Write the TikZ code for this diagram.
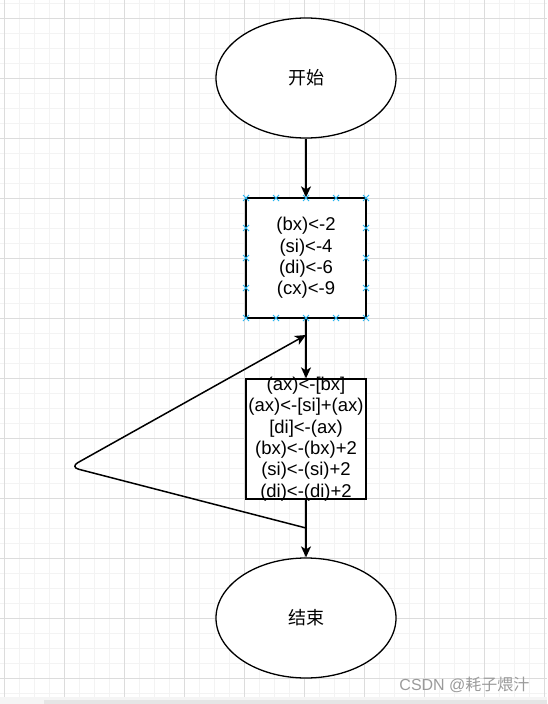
\documentclass[tikz,border=0pt]{standalone}
\usepackage{fontspec}
\setmainfont{Liberation Sans}
\newfontfamily\cjk{Noto Sans CJK SC}
\usetikzlibrary{arrows.meta,shapes.geometric}
\definecolor{gridmajor}{HTML}{DCDCDC}
\definecolor{gridminor}{HTML}{F3F3F3}
\definecolor{handleblue}{HTML}{29B6F2}
\definecolor{markgray}{HTML}{9A9A9A}
\tikzset{
  Terminal/.style = { ellipse, draw, line width=1.3pt, fill=white,
                      minimum width=180pt, minimum height=120pt,
                      inner sep=0pt, font=\fontsize{18}{20}\cjk },
  ProcBox/.style  = { rectangle, draw, line width=1.3pt, fill=white,
                      minimum size=120pt, inner sep=0pt },
  ProcText/.style = { align=center, inner sep=0pt,
                      font=\fontsize{18.5}{21.4}\selectfont },
  FlowEdge/.style = { line width=1.5pt,
                      -{Stealth[length=11pt,width=10pt,inset=3pt]} },
  Handle/.style   = { handleblue, line width=0.9pt } }

\begin{document}
\begin{tikzpicture}[x=1pt,y=-1pt]
  \useasboundingbox (0,0) rectangle (547,704);
  % background grid
  \foreach \gx in {4,19,...,544} \draw[gridminor,line width=0.8pt] (\gx,0) -- (\gx,697);
  \foreach \gy in {3,18,...,693} \draw[gridminor,line width=0.8pt] (0,\gy) -- (547,\gy);
  \foreach \gx in {4,64,...,544} \draw[gridmajor,line width=0.8pt] (\gx,0) -- (\gx,697);
  \foreach \gy in {18,78,...,678} \draw[gridmajor,line width=0.8pt] (0,\gy) -- (547,\gy);
  \fill[gray!8] (0,697) rectangle (547,704);
  \fill[gray!20] (44,700) rectangle (547,704);

  \node[Terminal](start) at (306,78) {开始};
  \node[ProcBox, label={[ProcText]center:(bx)<-2\\(si)<-4\\(di)<-6\\(cx)<-9}](init) at (306,258) {};
  \node[ProcBox, label={[ProcText]center:(ax)<-[bx]\\(ax)<-[si]+(ax)\\{}[di]<-(ax)\\(bx)<-(bx)+2\\(si)<-(si)+2\\(di)<-(di)+2}](body) at (306,439) {};
  \node[Terminal](stop) at (306,618) {结束};
  \node[markgray, font=\fontsize{16}{16}\selectfont, anchor=east](mark) at (533,685) {CSDN @{\cjk 耗子煨汁}};

  \draw[FlowEdge] (start) -- (init);
  \draw[FlowEdge] (init) -- (body);
  \draw[FlowEdge] (body) -- (stop);
  % loop back
  \coordinate (back) at (306,528);
  \coordinate (turn) at (70,467);
  \coordinate (entry) at (306,335);
  \draw[FlowEdge, rounded corners=9pt] (back) -- (turn) -- (entry);

  % selection handles
  \foreach \hx in {246,276,...,366}
    \foreach \hy in {198,318}
      \draw[Handle] (\hx-3,\hy-3) -- (\hx+3,\hy+3) (\hx-3,\hy+3) -- (\hx+3,\hy-3);
  \foreach \hy in {228,258,288}
    \foreach \hx in {246,366}
      \draw[Handle] (\hx-3,\hy-3) -- (\hx+3,\hy+3) (\hx-3,\hy+3) -- (\hx+3,\hy-3);
\end{tikzpicture}
\end{document}
